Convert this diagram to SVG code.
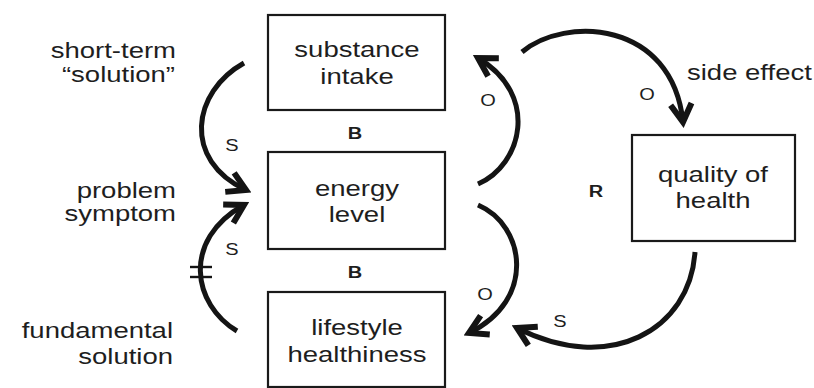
<svg xmlns="http://www.w3.org/2000/svg" width="814" height="388" viewBox="0 0 814 388">
<style>
  .box { fill: #fff; stroke: #1a1a1a; stroke-width: 2.2; }
  .t { font-family: "Liberation Sans", Arial, sans-serif; font-size: 22px; fill: #1e1e1e; }
  .lbl { font-family: "Liberation Sans", Arial, sans-serif; font-size: 16px; fill: #1e1e1e; text-anchor: middle; }
  .loop { font-family: "Liberation Sans", Arial, sans-serif; font-size: 16px; font-weight: bold; fill: #1e1e1e; text-anchor: middle; }
  .mid { text-anchor: middle; }
  .end { text-anchor: end; }
  .arc { fill: none; stroke: #141414; stroke-width: 5; marker-end: url(#head); }
  .hash { stroke: #141414; stroke-width: 2.4; }
</style>
<defs>
  <marker id="head" markerUnits="userSpaceOnUse" viewBox="-26 -16 32 32" refX="0" refY="0" markerWidth="32" markerHeight="32" orient="auto">
    <path d="M-18,-10.5 L0,0 L-18,10.5" fill="none" stroke="#141414" stroke-width="6" stroke-linejoin="miter"/>
  </marker>
</defs>

<g id="node-substance-intake">
  <rect class="box" x="268" y="15" width="177" height="95"/>
  <text class="t mid" transform="translate(357 0) scale(1.25 1)" x="0" y="57">substance</text>
  <text class="t mid" transform="translate(357 0) scale(1.25 1)" x="0" y="84">intake</text>
</g>
<g id="node-energy-level">
  <rect class="box" x="268" y="152" width="177" height="97"/>
  <text class="t mid" transform="translate(357 0) scale(1.25 1)" x="0" y="196">energy</text>
  <text class="t mid" transform="translate(357 0) scale(1.25 1)" x="0" y="222">level</text>
</g>
<g id="node-lifestyle-healthiness">
  <rect class="box" x="268" y="292" width="177" height="95"/>
  <text class="t mid" transform="translate(357 0) scale(1.25 1)" x="0" y="335">lifestyle</text>
  <text class="t mid" transform="translate(357 0) scale(1.25 1)" x="0" y="362">healthiness</text>
</g>
<g id="node-quality-of-health">
  <rect class="box" x="632" y="135" width="163" height="106"/>
  <text class="t mid" transform="translate(713 0) scale(1.25 1)" x="0" y="182">quality of</text>
  <text class="t mid" transform="translate(713 0) scale(1.25 1)" x="0" y="208">health</text>
</g>

<g id="annotations">
  <text class="t end" transform="translate(176 0) scale(1.25 1)" x="0" y="58">short-term</text>
  <text class="t end" transform="translate(175 0) scale(1.25 1)" x="0" y="82">“solution”</text>
  <text class="t end" transform="translate(176 0) scale(1.25 1)" x="0" y="198">problem</text>
  <text class="t end" transform="translate(176 0) scale(1.25 1)" x="0" y="221">symptom</text>
  <text class="t end" transform="translate(173 0) scale(1.25 1)" x="0" y="338">fundamental</text>
  <text class="t end" transform="translate(173 0) scale(1.25 1)" x="0" y="364">solution</text>
  <text class="t" transform="translate(687 0) scale(1.25 1)" x="0" y="80">side effect</text>
  <text class="loop" transform="translate(355 0) scale(1.25 1)" x="0" y="139">B</text>
  <text class="loop" transform="translate(355 0) scale(1.25 1)" x="0" y="278">B</text>
  <text class="loop" transform="translate(596 0) scale(1.25 1)" x="0" y="197">R</text>
</g>

<g id="connectors">
  <path class="arc" d="M244,63 C192,92 182,160 246,190"/>
  <path class="arc" d="M237,331 C193,305 181,240 244,205"/>
  <path class="arc" d="M478,184 C522,165 540,95 478,58"/>
  <path class="arc" d="M522,52 C565,16 672,20 683,122"/>
  <path class="arc" d="M478,205 C525,225 537,300 469,333"/>
  <path class="arc" d="M695,252 C690,330 610,375 517,328"/>
  <line class="hash" x1="190" y1="267" x2="212" y2="267"/>
  <line class="hash" x1="190" y1="277" x2="212" y2="277"/>
  <text class="lbl" transform="translate(232 0) scale(1.25 1)" x="0" y="151">S</text>
  <text class="lbl" transform="translate(232 0) scale(1.25 1)" x="0" y="255">S</text>
  <text class="lbl" transform="translate(488 0) scale(1.25 1)" x="0" y="106">O</text>
  <text class="lbl" transform="translate(647 0) scale(1.25 1)" x="0" y="100">O</text>
  <text class="lbl" transform="translate(485 0) scale(1.25 1)" x="0" y="300">O</text>
  <text class="lbl" transform="translate(560 0) scale(1.25 1)" x="0" y="327">S</text>
</g>
</svg>
